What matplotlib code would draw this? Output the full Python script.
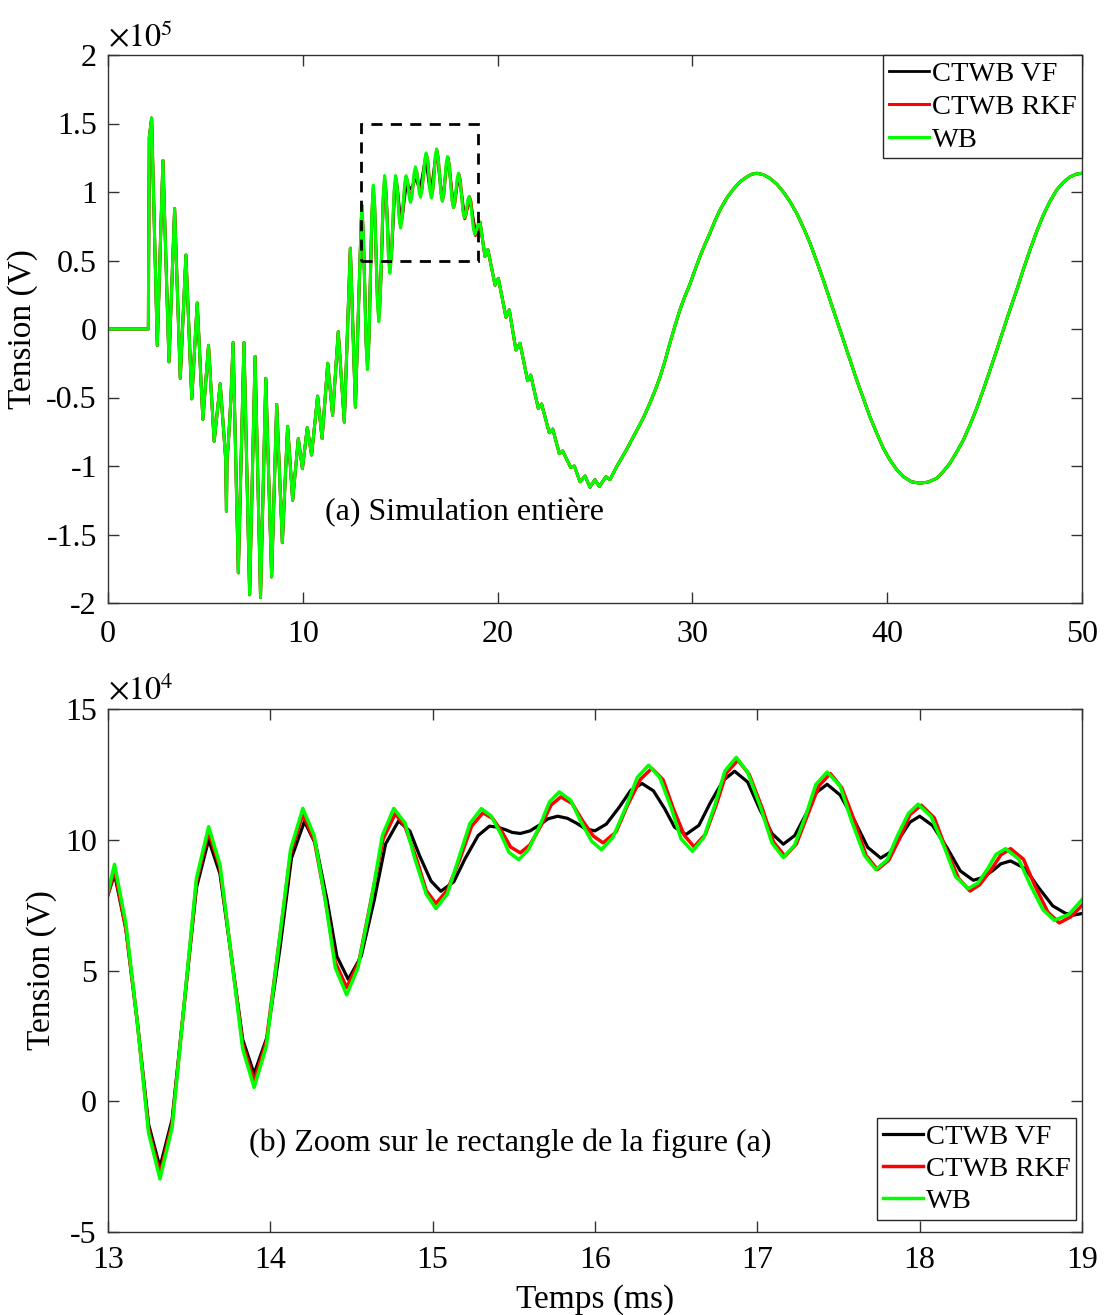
import numpy as np
import matplotlib
matplotlib.use("Agg")
import matplotlib.pyplot as plt
from matplotlib.patches import Rectangle

plt.rcParams['font.family'] = ['Liberation Serif', 'DejaVu Serif']
plt.rcParams['mathtext.fontset'] = 'stix'

# ---------------- data ----------------
# full simulation, common part (units of 1e5 V), before the zoom window
pre_t = [0.0, 2.07, 2.12, 2.24, 2.53, 2.82, 3.13, 3.42, 3.71, 4.00, 4.30, 4.58, 4.87,
         5.16, 5.45, 5.76, 6.04, 6.08, 6.11, 6.17, 6.25, 6.31, 6.42, 6.69, 6.98, 7.27,
         7.55, 7.83, 8.10, 8.40, 8.66, 8.95, 9.22, 9.48, 9.77, 9.98, 10.23, 10.45, 10.76,
         10.99, 11.28, 11.53, 11.82, 12.13, 12.44, 12.70]
pre_v = [0.0, 0.0, 1.40, 1.54, -0.12, 1.23, -0.24, 0.88, -0.36, 0.54, -0.51, 0.19, -0.66,
         -0.12, -0.82, -0.40, -0.95, -1.33, -0.95, -0.85, -0.66, -0.50, -0.10, -1.78, -0.10, -1.94,
         -0.20, -1.96, -0.36, -1.81, -0.55, -1.56, -0.71, -1.25, -0.80, -1.02, -0.72, -0.92, -0.49,
         -0.80, -0.25, -0.63, -0.02, -0.68, 0.59, -0.57]

# common part after the zoom window (units of 1e5 V)
post_t = [19.10, 19.35, 19.50, 19.87, 20.04, 20.43, 20.60, 20.94, 21.15, 21.54, 21.70,
          22.09, 22.26, 22.65, 22.83, 23.17, 23.34, 23.75, 23.94, 24.23, 24.49, 24.74,
          25.00, 25.22, 25.56, 25.77, 26.11, 26.62, 27.14, 27.48, 27.82, 28.08, 28.34,
          28.60, 28.85, 29.10, 29.36, 29.62, 29.88, 30.13, 30.39, 30.65, 30.90, 31.16,
          31.42, 31.76, 32.10, 32.45, 32.79, 33.05, 33.30, 33.64, 33.98, 34.33, 34.67,
          35.01, 35.35, 35.70, 36.04, 36.38, 36.72, 37.07, 37.41, 37.75, 38.09, 38.43,
          38.77, 39.11, 39.46, 39.80, 40.14, 40.48, 40.83, 41.25, 41.68, 42.11, 42.54,
          42.88, 43.22, 43.56, 43.91, 44.25, 44.59, 44.93, 45.28, 45.62, 45.96, 46.30,
          46.65, 46.99, 47.33, 47.67, 48.01, 48.35, 48.70, 49.04, 49.38, 49.70, 50.00]
post_v = [0.78, 0.53, 0.58, 0.32, 0.37, 0.085, 0.14, -0.153, -0.104, -0.377, -0.336,
          -0.58, -0.547, -0.757, -0.73, -0.91, -0.89, -1.01, -1.00, -1.115, -1.073, -1.155,
          -1.10, -1.15, -1.078, -1.10, -1.005, -0.88, -0.74, -0.65, -0.54, -0.45, -0.35,
          -0.23, -0.10, 0.02, 0.14, 0.24, 0.33, 0.43, 0.53, 0.62, 0.70, 0.79,
          0.87, 0.955, 1.02, 1.075, 1.11, 1.13, 1.137, 1.127, 1.10, 1.058, 1.00,
          0.93, 0.845, 0.74, 0.626, 0.495, 0.358, 0.21, 0.066, -0.08, -0.226, -0.37,
          -0.506, -0.64, -0.76, -0.87, -0.956, -1.025, -1.078, -1.115, -1.126, -1.117, -1.09,
          -1.04, -0.98, -0.90, -0.81, -0.70, -0.58, -0.445, -0.30, -0.155, -0.007, 0.14,
          0.285, 0.435, 0.577, 0.71, 0.83, 0.93, 1.015, 1.07, 1.11, 1.13, 1.137]

# zoom window 13-19 ms (units of 1e4 V)
wb_t = [13.00, 13.04,
        13.11, 13.18, 13.25, 13.32,
        13.395, 13.47, 13.545, 13.62,
        13.69, 13.76, 13.83, 13.90,
        13.975, 14.05, 14.125, 14.20,
        14.27, 14.34, 14.40, 14.47,
        14.54, 14.62, 14.69, 14.76,
        14.83, 14.89, 14.96, 15.02,
        15.09, 15.16, 15.23, 15.30,
        15.36, 15.42, 15.47, 15.53,
        15.59, 15.66, 15.72, 15.78,
        15.85, 15.91, 15.98, 16.04,
        16.11, 16.19, 16.26, 16.33,
        16.40, 16.47, 16.53, 16.60,
        16.67, 16.74, 16.80, 16.87,
        16.94, 17.02, 17.09, 17.16,
        17.23, 17.30, 17.36, 17.43,
        17.51, 17.58, 17.66, 17.73,
        17.80, 17.86, 17.93, 17.99,
        18.07, 18.15, 18.22, 18.30,
        18.36, 18.42, 18.47, 18.53,
        18.61, 18.68, 18.76, 18.83,
        18.92, 19.00]
wb_v = [8.0, 9.06,
        6.8, 3.05, -1.21, -2.97,
        -1.0, 3.77, 8.53, 10.5,
        9.04, 5.52, 1.99, 0.53,
        2.09, 5.87, 9.64, 11.2,
        10.16, 7.63, 5.11, 4.07,
        5.11, 7.63, 10.16, 11.2,
        10.64, 9.28, 7.93, 7.37,
        7.93, 9.28, 10.63, 11.19,
        10.91, 10.22, 9.52, 9.24,
        9.62, 10.54, 11.45, 11.83,
        11.51, 10.73, 9.94, 9.62,
        10.09, 11.24, 12.38, 12.85,
        12.37, 11.21, 10.04, 9.56,
        10.08, 11.36, 12.63, 13.15,
        12.59, 11.24, 9.88, 9.32,
        9.80, 10.96, 12.11, 12.59,
        12.05, 10.73, 9.40, 8.86,
        9.23, 10.11, 11.0, 11.36,
        10.89, 9.75, 8.60, 8.13,
        8.35, 8.90, 9.44, 9.66,
        9.26, 8.29, 7.32, 6.92,
        7.15, 7.71]

rkf_t = [13.00, 13.04,
         13.11, 13.18, 13.25, 13.32,
         13.395, 13.47, 13.545, 13.62,
         13.69, 13.76, 13.83, 13.90,
         13.975, 14.05, 14.125, 14.20,
         14.27, 14.34, 14.40, 14.47,
         14.545, 14.62, 14.695, 14.77,
         14.83, 14.90, 14.96, 15.02,
         15.09, 15.17, 15.24, 15.31,
         15.37, 15.43, 15.48, 15.54,
         15.60, 15.67, 15.73, 15.79,
         15.86, 15.92, 15.99, 16.05,
         16.13, 16.20, 16.28, 16.35,
         16.42, 16.48, 16.55, 16.61,
         16.68, 16.75, 16.81, 16.88,
         16.95, 17.03, 17.10, 17.17,
         17.24, 17.31, 17.38, 17.45,
         17.52, 17.60, 17.67, 17.74,
         17.81, 17.88, 17.94, 18.01,
         18.09, 18.16, 18.24, 18.31,
         18.37, 18.44, 18.50, 18.56,
         18.64, 18.71, 18.79, 18.86,
         18.93, 19.00]
rkf_v = [7.9, 8.85,
         6.6, 3.04, -1.07, -2.77,
         -0.86, 3.77, 8.39, 10.3,
         8.91, 5.54, 2.17, 0.78,
         2.27, 5.88, 9.48, 10.97,
         10.0, 7.66, 5.32, 4.35,
         5.32, 7.68, 10.03, 11.0,
         10.50, 9.28, 8.06, 7.56,
         8.07, 9.30, 10.52, 11.03,
         10.81, 10.27, 9.72, 9.50,
         9.81, 10.57, 11.33, 11.64,
         11.38, 10.76, 10.14, 9.88,
         10.30, 11.31, 12.31, 12.73,
         12.29, 11.23, 10.17, 9.73,
         10.21, 11.39, 12.56, 13.04,
         12.50, 11.21, 9.91, 9.37,
         9.83, 10.95, 12.07, 12.53,
         11.99, 10.70, 9.40, 8.86,
         9.22, 10.09, 10.96, 11.32,
         10.84, 9.68, 8.52, 8.04,
         8.28, 8.85, 9.42, 9.66,
         9.25, 8.24, 7.23, 6.82,
         7.05, 7.49]

vf_t = [13.00, 13.04,
        13.11, 13.18, 13.25, 13.32,
        13.395, 13.47, 13.545, 13.62,
        13.69, 13.76, 13.83, 13.90,
        13.98, 14.06, 14.13, 14.21,
        14.28, 14.35, 14.41, 14.48,
        14.56, 14.64, 14.71, 14.79,
        14.86, 14.92, 14.99, 15.05,
        15.13, 15.20, 15.28, 15.35,
        15.40, 15.45, 15.49, 15.54,
        15.60, 15.66, 15.71, 15.77,
        15.83, 15.89, 15.94, 16.00,
        16.07, 16.15, 16.22, 16.29,
        16.36, 16.43, 16.49, 16.56,
        16.64, 16.71, 16.79, 16.86,
        16.94, 17.01, 17.09, 17.16,
        17.23, 17.30, 17.36, 17.43,
        17.51, 17.60, 17.68, 17.76,
        17.82, 17.88, 17.94, 18.00,
        18.08, 18.17, 18.25, 18.33,
        18.39, 18.45, 18.50, 18.56,
        18.65, 18.73, 18.82, 18.90,
        18.95, 19.00]
vf_v = [7.9, 8.68,
        6.6, 3.08, -0.88, -2.52,
        -0.69, 3.74, 8.17, 10.0,
        8.69, 5.53, 2.36, 1.05,
        2.46, 5.88, 9.29, 10.7,
        9.82, 7.68, 5.54, 4.66,
        5.55, 7.69, 9.84, 10.72,
        10.33, 9.38, 8.42, 8.03,
        8.39, 9.28, 10.16, 10.52,
        10.48, 10.38, 10.28, 10.24,
        10.34, 10.57, 10.80, 10.90,
        10.82, 10.62, 10.42, 10.34,
        10.60, 11.25, 11.89, 12.15,
        11.87, 11.18, 10.48, 10.20,
        10.55, 11.41, 12.27, 12.62,
        12.21, 11.23, 10.24, 9.83,
        10.16, 10.98, 11.79, 12.12,
        11.71, 10.71, 9.71, 9.30,
        9.53, 10.10, 10.67, 10.90,
        10.54, 9.68, 8.81, 8.45,
        8.56, 8.82, 9.08, 9.19,
        8.90, 8.19, 7.47, 7.18,
        7.12, 7.18]

series_names = ['CTWB VF', 'CTWB RKF', 'WB']
series_colors = ['#000000', '#ff0000', '#00ff00']
zoom_box = [13, 19, 0.5, 1.5]   # t0, t1, v0, v1 (1e5 V)

top_xticks = [0, 10, 20, 30, 40, 50]
top_yticks = [-2, -1.5, -1, -0.5, 0, 0.5, 1, 1.5, 2]
top_yticklabels = ['-2', '-1.5', '-1', '-0.5', '0', '0.5', '1', '1.5', '2']
bot_xticks = [13, 14, 15, 16, 17, 18, 19]
bot_yticks = [-5, 0, 5, 10, 15]
bot_yticklabels = ['-5', '0', '5', '10', '15']

# ---------------- figure ----------------
W, H = 1104, 1315
fig = plt.figure(figsize=(W / 100, H / 100), dpi=100)
ax1 = fig.add_axes([108 / W, 1 - 603 / H, (1082 - 108) / W, (603 - 55) / H])
ax2 = fig.add_axes([108 / W, 1 - 1232 / H, (1082 - 108) / W, (1232 - 709) / H])

TFS = 23     # tick labels
LFS = 24     # axis labels
AFS = 23     # annotations
GFS = 20.5   # legend
spine_c = '0.2'

zoom_sets = [(vf_t, vf_v), (rkf_t, rkf_v), (wb_t, wb_v)]
lws = [2.0, 2.2, 2.2]

# top: full simulation
for (zt, zv), name, col, lw in zip(zoom_sets, series_names, series_colors, lws):
    tt = np.concatenate([pre_t, zt, post_t])
    vv = np.concatenate([pre_v, np.array(zv) / 10.0, post_v])
    ax1.plot(tt, vv, color=col, lw=lw, label=name, solid_joinstyle='round')

t0, t1, v0, v1 = zoom_box
ax1.add_patch(Rectangle((t0, v0), t1 - t0, v1 - v0, fill=False, ec='black',
                        lw=2.0, ls=(0, (4, 3)), zorder=5))

ax1.set_xlim(0, 50)
ax1.set_ylim(-2, 2)
ax1.set_xticks(top_xticks)
ax1.set_yticks(top_yticks)
ax1.set_yticklabels(top_yticklabels)
ax1.set_ylabel('Tension (V)', fontsize=LFS, labelpad=6)
ax1.text(18.3, -1.34, '(a) Simulation entière', fontsize=AFS, ha='center', va='center')
ax1.text(0.0, 1.004, r'$\times10^{5}$', transform=ax1.transAxes, fontsize=TFS,
         ha='left', va='bottom')

leg1 = ax1.legend(loc='upper right', bbox_to_anchor=(1.0, 1.0), borderaxespad=0,
                  fontsize=GFS, handlelength=1.4, handletextpad=0.1, labelspacing=0.25,
                  borderpad=0.2, fancybox=False, framealpha=1, edgecolor='0.15')
leg1.get_frame().set_linewidth(1.0)

# bottom: zoom
for (zt, zv), name, col, lw in zip(zoom_sets, series_names, series_colors, lws):
    ax2.plot(zt, zv, color=col, lw=lw + 0.3, label=name, solid_joinstyle='round')

ax2.set_xlim(13, 19)
ax2.set_ylim(-5, 15)
ax2.set_xticks(bot_xticks)
ax2.set_yticks(bot_yticks)
ax2.set_yticklabels(bot_yticklabels)
ax2.set_ylabel('Tension (V)', fontsize=LFS, labelpad=6)
ax2.set_xlabel('Temps (ms)', fontsize=LFS, labelpad=7)
ax2.text(15.48, -1.6, '(b) Zoom sur le rectangle de la figure (a)', fontsize=AFS,
         ha='center', va='center')
ax2.text(0.0, 1.004, r'$\times10^{4}$', transform=ax2.transAxes, fontsize=TFS,
         ha='left', va='bottom')

leg2 = ax2.legend(loc='lower right', borderaxespad=0,
                  fontsize=GFS, handlelength=1.4, handletextpad=0.1, labelspacing=0.22,
                  borderpad=0.2, fancybox=False, framealpha=1, edgecolor='0.15')
leg2.set_bbox_to_anchor((1076 / W, 1 - 1220 / H), transform=fig.transFigure)
leg2.get_frame().set_linewidth(1.0)

for ax, xpad in ((ax1, 12), (ax2, 10)):
    for s in ax.spines.values():
        s.set_color(spine_c)
        s.set_linewidth(1.0)
    ax.tick_params(direction='in', length=8, width=1.0, color=spine_c,
                   top=True, right=True, labelsize=TFS)
    ax.tick_params(axis='x', pad=xpad)
    ax.tick_params(axis='y', pad=8)

fig.savefig('out.png', dpi=100)
